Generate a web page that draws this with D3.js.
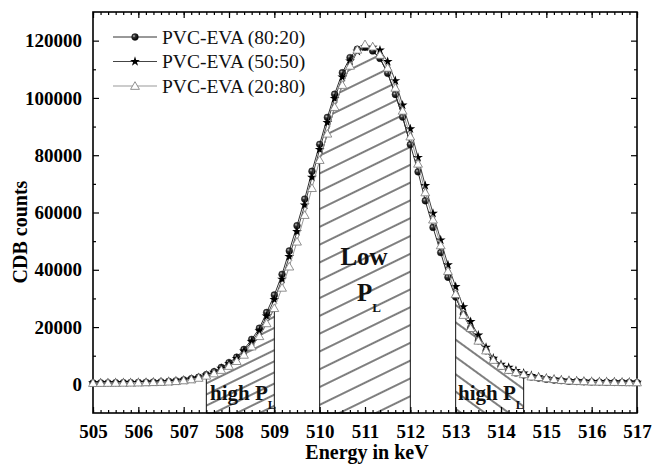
<!DOCTYPE html>
<html>
<head>
<meta charset="utf-8">
<script src="https://cdn.jsdelivr.net/npm/d3@7"></script>
<style>
  body { margin: 0; background: #fff; }
  text { font-family: "Liberation Serif", "Times New Roman", serif; }
</style>
</head>
<body>
<script>
var w = 653;
var h = 465;

// energy channels (keV)
var energy = [505.00, 505.17, 505.33, 505.50, 505.67, 505.83, 506.00, 506.17, 506.33, 506.50, 506.67, 506.83,
  507.00, 507.17, 507.33, 507.50, 507.67, 507.83, 508.00, 508.17, 508.33, 508.50, 508.67, 508.83,
  509.00, 509.17, 509.33, 509.50, 509.67, 509.83, 510.00, 510.17, 510.33, 510.50, 510.67, 510.83,
  511.00, 511.17, 511.33, 511.50, 511.67, 511.83, 512.00, 512.17, 512.33, 512.50, 512.67, 512.83,
  513.00, 513.17, 513.33, 513.50, 513.67, 513.83, 514.00, 514.17, 514.33, 514.50, 514.67, 514.83,
  515.00, 515.17, 515.33, 515.50, 515.67, 515.83, 516.00, 516.17, 516.33, 516.50, 516.67, 516.83, 517.00];

// PVC-EVA (80:20)
var counts8020 = [500, 520, 540, 560, 590, 620, 660, 720, 800, 900, 1050, 1250,
  1550, 1950, 2500, 3400, 4400, 5900, 7600, 9500, 12200, 15700, 19600, 25100,
  31200, 38400, 46600, 55400, 64700, 74400, 83800, 93200, 101300, 108800, 114100, 117000,
  117700, 116400, 113800, 108600, 101200, 93300, 83700, 74200, 64100, 54800, 46000, 37400,
  30500, 24500, 19600, 15200, 11700, 8600, 6300, 4900, 4000, 3300, 2600, 2200,
  1800, 1500, 1300, 1100, 1000, 900, 850, 800, 750, 700, 680, 650, 620];

// PVC-EVA (50:50)
var counts5050 = [490, 510, 530, 550, 580, 610, 650, 700, 780, 870, 1000, 1180,
  1450, 1800, 2350, 3200, 4200, 5600, 7200, 9000, 11600, 14900, 18700, 23800,
  29600, 36700, 44600, 53300, 62600, 72300, 82000, 91400, 99800, 107300, 112900, 116300,
  117800, 117700, 116700, 112700, 106000, 97500, 89200, 79200, 69400, 59700, 50400, 41700,
  34100, 27100, 21900, 17200, 12900, 9100, 7000, 5900, 4800, 3900, 3100, 2600,
  2200, 1850, 1550, 1350, 1200, 1100, 1000, 950, 900, 850, 800, 750, 700];

// PVC-EVA (20:80)
var counts2080 = [450, 470, 490, 510, 540, 570, 610, 660, 730, 820, 940, 1100,
  1350, 1700, 2250, 3000, 3800, 5000, 6400, 8100, 10300, 13200, 16800, 21300,
  26600, 33700, 41100, 49800, 59100, 68500, 78300, 87500, 96800, 104500, 111200, 116800,
  118700, 117900, 115000, 110500, 103500, 95500, 86500, 77000, 67000, 57500, 48500, 39500,
  31500, 24200, 19600, 15200, 11800, 8500, 6400, 5000, 4200, 3500, 2700, 2500,
  2100, 1800, 1500, 1300, 1150, 1050, 950, 900, 850, 800, 750, 700, 650];

var seriesNames = ["PVC-EVA (80:20)", "PVC-EVA (50:50)", "PVC-EVA (20:80)"];

// hatched integration windows (keV)
var windowStart = [507.5, 510.0, 513.0];
var windowEnd = [509.0, 512.0, 514.5];

var xTicks = [505, 506, 507, 508, 509, 510, 511, 512, 513, 514, 515, 516, 517];
var yTicks = [0, 20000, 40000, 60000, 80000, 100000, 120000];

var padL = 93, padR = 637, padT = 12, padB = 413;

var svg = d3.select("body").append("svg")
  .attr("width", w)
  .attr("height", h);

var x = d3.scaleLinear().domain([505, 517]).range([padL, padR]);
var y = d3.scaleLinear().domain([-10000, 130000]).range([padB, padT]);

var defs = svg.append("defs");

// shaded ball for the 80:20 markers
var grad = defs.append("radialGradient").attr("id", "ball")
  .attr("cx", "35%").attr("cy", "35%").attr("r", "65%");
grad.append("stop").attr("offset", "0%").attr("stop-color", "#c8c8c8");
grad.append("stop").attr("offset", "35%").attr("stop-color", "#333");
grad.append("stop").attr("offset", "100%").attr("stop-color", "#000");

// hatch patterns: angle and spacing per window
var hatch = [
  {angle: -26, gap: 10},
  {angle: -26, gap: 16},
  {angle: 36, gap: 14}
];
hatch.forEach(function(p, i) {
  var pat = defs.append("pattern").attr("id", "hatch" + i)
    .attr("patternUnits", "userSpaceOnUse")
    .attr("width", 40).attr("height", p.gap)
    .attr("patternTransform", "rotate(" + p.angle + ")");
  pat.append("line")
    .attr("x1", 0).attr("y1", p.gap / 2).attr("x2", 40).attr("y2", p.gap / 2)
    .attr("stroke", "#000").attr("stroke-width", 1.1);
});

var data = [counts8020, counts5050, counts2080].map(function(vals) {
  return energy.map(function(e, i) { return {e: e, v: vals[i]}; });
});

var lower = energy.map(function(e, i) {
  return {e: e, v: Math.min(counts8020[i], counts5050[i], counts2080[i])};
});

// hatched areas under the lowest curve
var area = d3.area()
  .x(function(d) { return x(d.e); })
  .y0(y(-10000))
  .y1(function(d) { return y(d.v); });

windowStart.forEach(function(s, i) {
  var part = lower.filter(function(d) { return d.e >= s - 0.01 && d.e <= windowEnd[i] + 0.01; });
  svg.append("path")
    .datum(part)
    .attr("d", area)
    .attr("fill", "url(#hatch" + i + ")")
    .attr("stroke", "#111")
    .attr("stroke-width", 1);
});

// axes
function minorRange(a, b, step) {
  var out = [];
  for (var t = a; t <= b + 1e-9; t += step) out.push(t);
  return out;
}
var xMinor = minorRange(505, 517, 1 / 6);
var yMinor = [10000, 30000, 50000, 70000, 90000, 110000];

function styleAxis(g) {
  g.select(".domain").remove();
  g.selectAll("line").attr("stroke", "#000").attr("stroke-width", 1.2);
  g.selectAll("text")
    .attr("font-family", "Liberation Serif, serif")
    .attr("font-weight", "bold")
    .attr("font-size", "19px")
    .attr("fill", "#000");
}

svg.append("g").attr("transform", "translate(0," + padB + ")")
  .call(d3.axisBottom(x).tickValues(xMinor).tickSize(-3).tickFormat(""))
  .call(styleAxis);
svg.append("g").attr("transform", "translate(0," + padB + ")")
  .call(d3.axisBottom(x).tickValues(xTicks).tickSize(-6).tickPadding(12).tickFormat(d3.format("d")))
  .call(styleAxis);
svg.append("g").attr("transform", "translate(0," + padT + ")")
  .call(d3.axisTop(x).tickValues(xMinor).tickSize(-3).tickFormat(""))
  .call(styleAxis);
svg.append("g").attr("transform", "translate(0," + padT + ")")
  .call(d3.axisTop(x).tickValues(xTicks).tickSize(-6).tickFormat(""))
  .call(styleAxis);

svg.append("g").attr("transform", "translate(" + padL + ",0)")
  .call(d3.axisLeft(y).tickValues(yMinor).tickSize(-3).tickFormat(""))
  .call(styleAxis);
svg.append("g").attr("transform", "translate(" + padL + ",0)")
  .call(d3.axisLeft(y).tickValues(yTicks).tickSize(-6).tickPadding(11).tickFormat(d3.format("d")))
  .call(styleAxis);
svg.append("g").attr("transform", "translate(" + padR + ",0)")
  .call(d3.axisRight(y).tickValues(yMinor).tickSize(-3).tickFormat(""))
  .call(styleAxis);
svg.append("g").attr("transform", "translate(" + padR + ",0)")
  .call(d3.axisRight(y).tickValues(yTicks).tickSize(-6).tickFormat(""))
  .call(styleAxis);

svg.append("rect")
  .attr("x", padL).attr("y", padT)
  .attr("width", padR - padL).attr("height", padB - padT)
  .attr("fill", "none").attr("stroke", "#000").attr("stroke-width", 1.6);

// series
var lineColor = ["#333", "#444", "#999"];
var line = d3.line()
  .x(function(d) { return x(d.e); })
  .y(function(d) { return y(d.v); });

var star = d3.symbol().type(d3.symbolStar).size(30);
var tri = d3.symbol().type(d3.symbolTriangle).size(34);

function drawMarker(g, k) {
  if (k == 0) {
    g.append("circle").attr("r", 3.4)
      .attr("fill", "url(#ball)").attr("stroke", "#111").attr("stroke-width", 0.4);
  } else if (k == 1) {
    g.append("path").attr("d", star).attr("fill", "#000");
  } else {
    g.append("path").attr("d", tri).attr("transform", "translate(0,0.8)")
      .attr("fill", "#fff").attr("stroke", "#777").attr("stroke-width", 0.8);
  }
}

data.forEach(function(ds, k) {
  svg.append("path")
    .datum(ds)
    .attr("d", line)
    .attr("fill", "none")
    .attr("stroke", lineColor[k])
    .attr("stroke-width", 1);
  svg.append("g").selectAll("g")
    .data(ds)
    .enter()
    .append("g")
    .attr("transform", function(d) { return "translate(" + x(d.e) + "," + y(d.v) + ")"; })
    .each(function() { drawMarker(d3.select(this), k); });
});

// legend
seriesNames.forEach(function(name, k) {
  var ly = 37 + k * 24.5;
  svg.append("line")
    .attr("x1", 113).attr("x2", 157).attr("y1", ly).attr("y2", ly)
    .attr("stroke", lineColor[k]).attr("stroke-width", 1);
  var g = svg.append("g").attr("transform", "translate(135," + ly + ")");
  drawMarker(g, k);
  svg.append("text")
    .attr("x", 162).attr("y", ly + 6.5)
    .attr("font-size", "19.5px")
    .attr("fill", "#111")
    .text(name);
});

// window labels
function subLabel(tx, ty, main, size, subSize) {
  var t = svg.append("text")
    .attr("x", tx).attr("y", ty)
    .attr("font-weight", "bold")
    .attr("font-size", size + "px")
    .attr("fill", "#111");
  t.append("tspan").text(main);
  t.append("tspan").attr("font-size", subSize + "px").attr("dy", size * 0.42).text("L");
}

subLabel(210, 400, "high P", 21, 12);
subLabel(458, 400, "high P", 21, 12);

svg.append("text")
  .attr("x", 364).attr("y", 265)
  .attr("text-anchor", "middle")
  .attr("font-weight", "bold")
  .attr("font-size", "25px")
  .attr("fill", "#111")
  .text("Low");
subLabel(357, 301, "P", 25, 13);

// axis titles
svg.append("text")
  .attr("x", 367).attr("y", 459)
  .attr("text-anchor", "middle")
  .attr("font-weight", "bold")
  .attr("font-size", "20px")
  .text("Energy in keV");

svg.append("text")
  .attr("transform", "translate(27,232) rotate(-90)")
  .attr("text-anchor", "middle")
  .attr("font-weight", "bold")
  .attr("font-size", "20px")
  .text("CDB counts");
</script>
</body>
</html>
